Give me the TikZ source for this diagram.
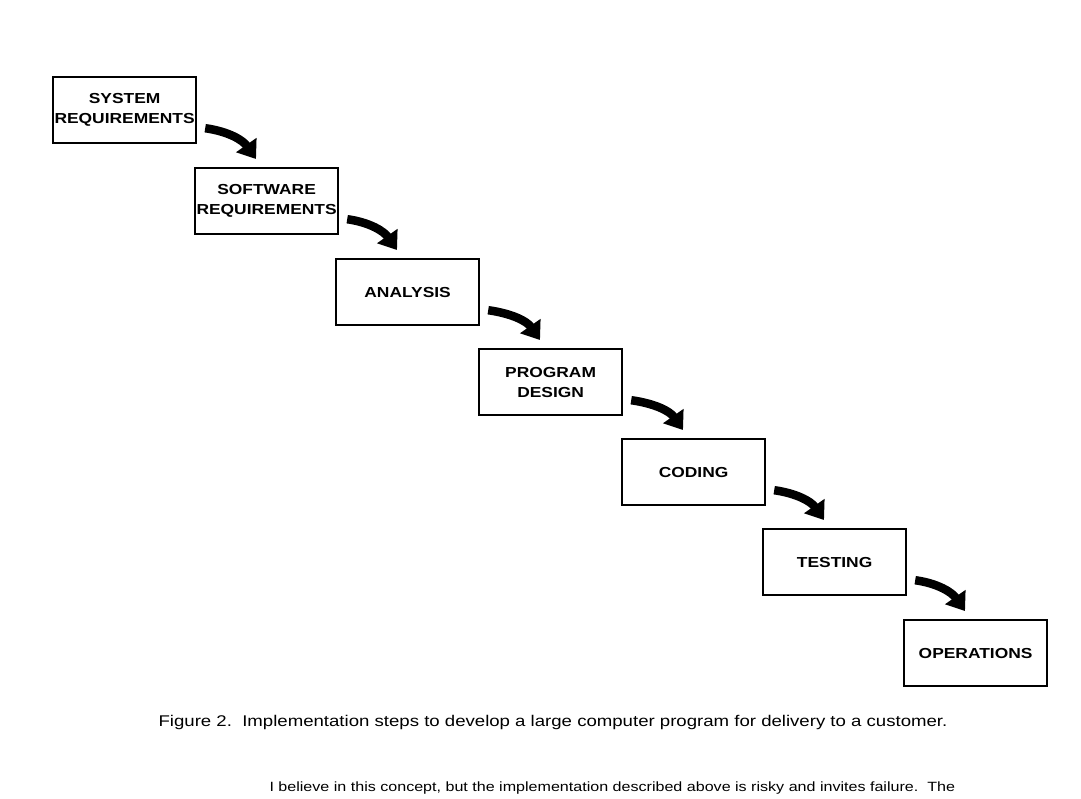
\documentclass[tikz,border=0pt]{standalone}
\usepackage{fontspec}
\setmainfont{Liberation Sans}
\newfontfamily\wide[FakeStretch=1.2]{Liberation Sans}
\usetikzlibrary{arrows.meta,calc}
\begin{document}
\begin{tikzpicture}[x=1pt,y=-1pt,
  stage/.style={draw,line width=2.2pt,minimum width=143pt,minimum height=66pt,inner sep=0pt,align=center,font=\wide\bfseries\fontsize{14.5}{20}\selectfont},
  flow/.style={line width=8.5pt,-{Triangle[length=17pt,width=24pt]}}]
\fill[white] (0,0) rectangle (1081,799);
\useasboundingbox (0,0) rectangle (1081,799);
\node[stage,anchor=north west] (b1) at (52,76) {SYSTEM\\REQUIREMENTS};
\node[stage,anchor=north west] (b2) at (194,167) {SOFTWARE\\REQUIREMENTS};
\node[stage,anchor=north west] (b3) at (335,258) {ANALYSIS};
\node[stage,anchor=north west] (b4) at (478,348) {PROGRAM\\DESIGN};
\node[stage,anchor=north west] (b5) at (621,438) {CODING};
\node[stage,anchor=north west] (b6) at (762,528) {TESTING};
\node[stage,anchor=north west] (b7) at (903,619) {OPERATIONS};
\foreach \a/\b in {b1/b2,b2/b3,b3/b4,b4/b5,b5/b6,b6/b7}{
  \draw[flow] ($(\a.south east)+(8,-16)$) to[out=-8,in=125] ($(\b.north west)+(62,-8)$);
}
\node[font=\wide\fontsize{15.5}{18}\selectfont] (cap) at (553,722) {Figure 2.\ \ Implementation steps to develop a large computer program for delivery to a customer.};
\node[font=\wide\fontsize{13.4}{16}\selectfont,anchor=west] (txt) at (266,788) {I believe in this concept, but the implementation described above is risky and invites failure.\ \ The};
\end{tikzpicture}
\end{document}
